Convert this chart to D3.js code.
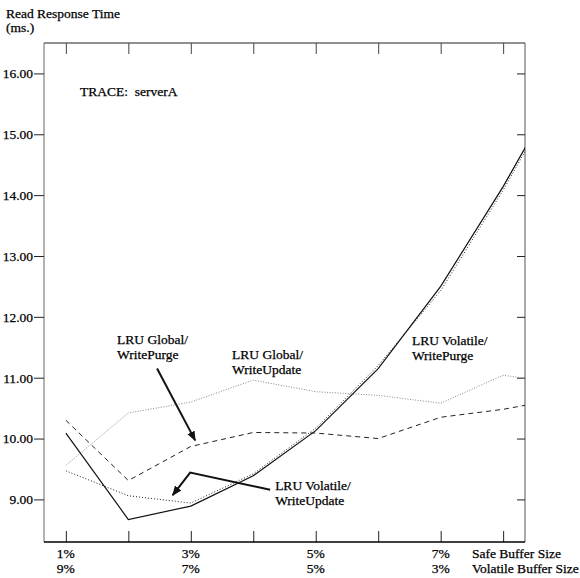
<!DOCTYPE html>
<html>
<head>
<meta charset="utf-8">
<script src="https://cdn.jsdelivr.net/npm/d3@7"></script>
<style>
  body { margin: 0; background: #fff; }
  text { font-family: "Liberation Serif", "DejaVu Serif", serif; fill: #000; stroke: #000; stroke-width: 0.25px; }
</style>
</head>
<body>
<div id="wrapper"></div>
<script>
// safe buffer size (%) at each measured point; 9 lies past the frame and is clipped
const safeSizes = [1, 2, 3, 4, 5, 6, 7, 8, 9];
const volatileWritePurge  = [10.09, 8.67, 8.89, 9.39, 10.13, 11.15, 12.50, 14.14, 15.95];
const volatileWriteUpdate = [9.47, 9.06, 8.94, 9.42, 10.17, 11.20, 12.43, 14.08, 15.90];
const globalWriteUpdate   = [9.56, 10.42, 10.60, 10.96, 10.77, 10.71, 10.58, 11.04, 10.90];
const globalWritePurge    = [10.30, 9.31, 9.87, 10.10, 10.09, 10.00, 10.35, 10.48, 10.67];

const yTicks = [9, 10, 11, 12, 13, 14, 15, 16];
const xTicks = [1, 2, 3, 4, 5, 6, 7, 8];
const labelPos = [1, 3, 5, 7];
const safeLabels = ["1%", "3%", "5%", "7%"];
const volatileLabels = ["9%", "7%", "5%", "3%"];

const dimension = {
    width: 580,
    height: 578,
    left: 44, right: 525, top: 43, bottom: 542
};

const svg = d3.select("#wrapper").append("svg")
    .attr("width", dimension.width)
    .attr("height", dimension.height);

const xScaler = d3.scaleLinear().domain([0.65, 8.35]).range([dimension.left, dimension.right]);
const yScaler = d3.scaleLinear().domain([8.3, 16.5]).range([dimension.bottom, dimension.top]);

svg.append("defs").append("clipPath").attr("id", "plotclip")
  .append("rect")
    .attr("x", dimension.left).attr("y", dimension.top)
    .attr("width", dimension.right - dimension.left)
    .attr("height", dimension.bottom - dimension.top);

const marker = svg.select("defs").append("marker")
    .attr("id", "head")
    .attr("viewBox", "0 0 10 10")
    .attr("refX", 9).attr("refY", 5)
    .attr("markerWidth", 5).attr("markerHeight", 5)
    .attr("markerUnits", "strokeWidth")
    .attr("orient", "auto");
marker.append("path").attr("d", "M0,1 L10,5 L0,9 Z").attr("fill", "#111");

// frame
const frame = svg.append("g");
frame.append("line").attr("x1", dimension.left).attr("x2", dimension.right)
    .attr("y1", dimension.top).attr("y2", dimension.top).attr("stroke", "#222");
frame.append("line").attr("x1", dimension.left).attr("x2", dimension.left)
    .attr("y1", dimension.top).attr("y2", dimension.bottom).attr("stroke", "#666");
frame.append("line").attr("x1", dimension.right).attr("x2", dimension.right)
    .attr("y1", dimension.top).attr("y2", dimension.bottom).attr("stroke", "#555");

// left axis: outward ticks with labels
const yAxis = d3.axisLeft(yScaler).tickValues(yTicks).tickSize(10).tickPadding(1)
    .tickFormat(d3.format(".2f"));
const gy = svg.append("g").attr("transform", `translate(${dimension.left},0)`).call(yAxis);
gy.select(".domain").remove();
gy.selectAll("line").attr("stroke", "#222");
gy.selectAll("text").attr("font-size", 13.5).attr("font-family", "Liberation Serif").attr("fill", "#000");

// right axis: inward ticks
const gyr = svg.append("g").attr("transform", `translate(${dimension.right},0)`)
    .call(d3.axisLeft(yScaler).tickValues(yTicks).tickSize(8).tickFormat(""));
gyr.select(".domain").remove();
gyr.selectAll("line").attr("stroke", "#222");

// top axis: inward ticks
const gxt = svg.append("g").attr("transform", `translate(0,${dimension.top})`)
    .call(d3.axisBottom(xScaler).tickValues(xTicks).tickSize(11).tickFormat(""));
gxt.select(".domain").remove();
gxt.selectAll("line").attr("stroke", "#444");

// bottom axis: inward ticks
const gxb = svg.append("g").attr("transform", `translate(0,${dimension.bottom})`)
    .call(d3.axisTop(xScaler).tickValues(xTicks).tickSize(11).tickFormat(""));
gxb.select(".domain").remove();
gxb.selectAll("line").attr("stroke", "#222");
svg.append("line").attr("x1", dimension.left).attr("x2", dimension.right)
    .attr("y1", dimension.bottom).attr("y2", dimension.bottom)
    .attr("stroke", "#000").attr("stroke-width", 1.6);

// bottom labels
const labelsG = svg.append("g").attr("font-size", 13.5);
labelPos.forEach((p, i) => {
    labelsG.append("text").attr("x", xScaler(p)).attr("y", 558)
        .attr("text-anchor", "middle").text(safeLabels[i]);
    labelsG.append("text").attr("x", xScaler(p)).attr("y", 573)
        .attr("text-anchor", "middle").text(volatileLabels[i]);
});
labelsG.append("text").attr("x", 472).attr("y", 558).text("Safe Buffer Size");
labelsG.append("text").attr("x", 472).attr("y", 573).text("Volatile Buffer Size");

// y title
svg.append("text").attr("x", 6).attr("y", 18).attr("font-size", 13.5).text("Read Response Time");
svg.append("text").attr("x", 6).attr("y", 32).attr("font-size", 13.5).text("(ms.)");
svg.append("text").attr("x", 80).attr("y", 96).attr("font-size", 13.5)
    .attr("xml:space", "preserve").text("TRACE:  serverA");

// series
const series = [
    { values: globalWriteUpdate, stroke: "#888", width: 1, dash: "1,1.6" },
    { values: globalWritePurge, stroke: "#222", width: 1, dash: "5,4" },
    { values: volatileWriteUpdate, stroke: "#222", width: 1, dash: "1,2" },
    { values: volatileWritePurge, stroke: "#111", width: 1.2, dash: null }
];

const lineGenerator = d3.line()
    .x((d, i) => xScaler(safeSizes[i]))
    .y(d => yScaler(d));

const linesG = svg.append("g").attr("clip-path", "url(#plotclip)");
series.forEach(s => {
    linesG.append("path")
        .attr("d", lineGenerator(s.values))
        .attr("fill", "none")
        .attr("stroke", s.stroke)
        .attr("stroke-width", s.width)
        .attr("stroke-dasharray", s.dash);
});

// annotations (positions in data units)
const annotations = [
    { lines: ["LRU Global/", "WritePurge"], x: 1.82, y: 11.55 },
    { lines: ["LRU Global/", "WriteUpdate"], x: 3.66, y: 11.30 },
    { lines: ["LRU Volatile/", "WritePurge"], x: 6.54, y: 11.53 },
    { lines: ["LRU Volatile/", "WriteUpdate"], x: 4.35, y: 9.16 }
];
annotations.forEach(a => {
    const t = svg.append("text").attr("font-size", 13.5)
        .attr("x", xScaler(a.x)).attr("y", yScaler(a.y));
    a.lines.forEach((l, i) => {
        t.append("tspan").attr("x", xScaler(a.x)).attr("dy", i === 0 ? 0 : 15).text(l);
    });
});

const arrows = [
    [[2.46, 11.15], [3.07, 9.97]],
    [[4.27, 9.16], [2.99, 9.44], [2.71, 9.07]]
];
const arrowLine = d3.line().x(d => xScaler(d[0])).y(d => yScaler(d[1]));
arrows.forEach(a => {
    svg.append("path")
        .attr("d", arrowLine(a))
        .attr("fill", "none")
        .attr("stroke", "#111")
        .attr("stroke-width", 2)
        .attr("marker-end", "url(#head)");
});
</script>
</body>
</html>
